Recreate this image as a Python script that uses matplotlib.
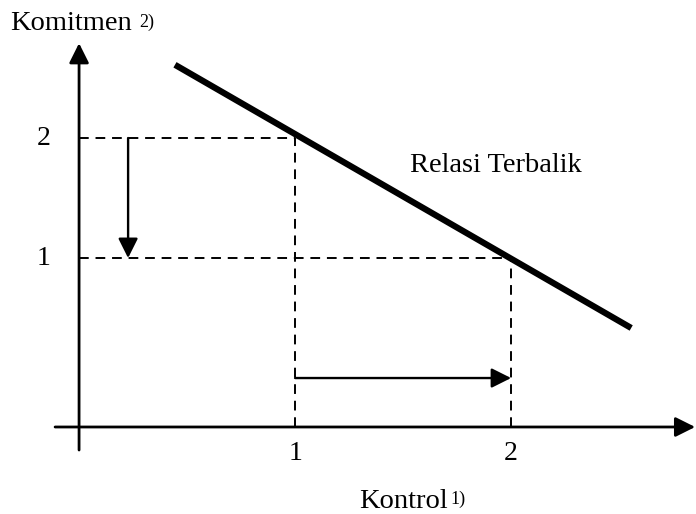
import matplotlib.pyplot as plt

# Data for the inverse relation diagram
kontrol_ticks = [1, 2]
komitmen_ticks = [1, 2]
kontrol_line = [0.444, 2.556]    # x of the thick line ends
komitmen_line = [2.61, 0.417]    # y of the thick line ends
x_axis_label = 'Kontrol'
y_axis_label = 'Komitmen'
relation_label = 'Relasi Terbalik'

plt.rcParams['font.family'] = ['Liberation Serif', 'DejaVu Serif']

fig = plt.figure(figsize=(6.96, 5.14), dpi=100)
ax = fig.add_axes([0, 0, 1, 1])
ax.set_xlim(-0.366, 2.856)
ax.set_ylim(-1.133, 3.15)
ax.axis('off')

axis_y = -0.408  # where the horizontal axis sits


def arrow(start, end, lw=1.8, scale=30):
    ax.annotate('', xy=end, xytext=start, annotation_clip=False,
                arrowprops=dict(arrowstyle='-|>', color='black', lw=lw,
                                mutation_scale=scale, shrinkA=0, shrinkB=0))


# Axes drawn as arrows
arrow((-0.111, axis_y), (2.852, axis_y), lw=2.0)
arrow((0, -0.6), (0, 2.79), lw=2.0)

# Dashed guide lines
for xv, yv in zip(kontrol_ticks, komitmen_ticks[::-1]):
    ax.plot([0, xv], [yv, yv], color='black', lw=1.4, ls=(0, (5, 3.5)))
    ax.plot([xv, xv], [axis_y, yv], color='black', lw=1.4, ls=(0, (5, 3.5)))

# Thick relation line
ax.plot(kontrol_line, komitmen_line, color='black', lw=4.5, solid_capstyle='butt')

# Change arrows
arrow((0.227, komitmen_ticks[1]), (0.227, komitmen_ticks[0]), lw=1.7)
arrow((kontrol_ticks[0], 0), (kontrol_ticks[1], 0), lw=1.7)

# Tick labels
for v in komitmen_ticks:
    ax.text(-0.166, v, str(v), fontsize=20, ha='center', va='center')
for v in kontrol_ticks:
    ax.text(v, -0.63, str(v), fontsize=20, ha='center', va='center')

# Labels with superscripts
ax.text(10, 514 - 30, y_axis_label, fontsize=20.5, ha='left', va='baseline',
        transform=None)
ax.text(139, 514 - 27, '2)', fontsize=13, ha='left', va='baseline',
        transform=None)
ax.text(359, 514 - 508, x_axis_label, fontsize=20.5, ha='left', va='baseline',
        transform=None)
ax.text(450, 514 - 504, '1)', fontsize=13, ha='left', va='baseline',
        transform=None)
ax.text(410, 514 - 172, relation_label, fontsize=20.5, ha='left', va='baseline',
        transform=None)

fig.savefig('out.png', dpi=100)
